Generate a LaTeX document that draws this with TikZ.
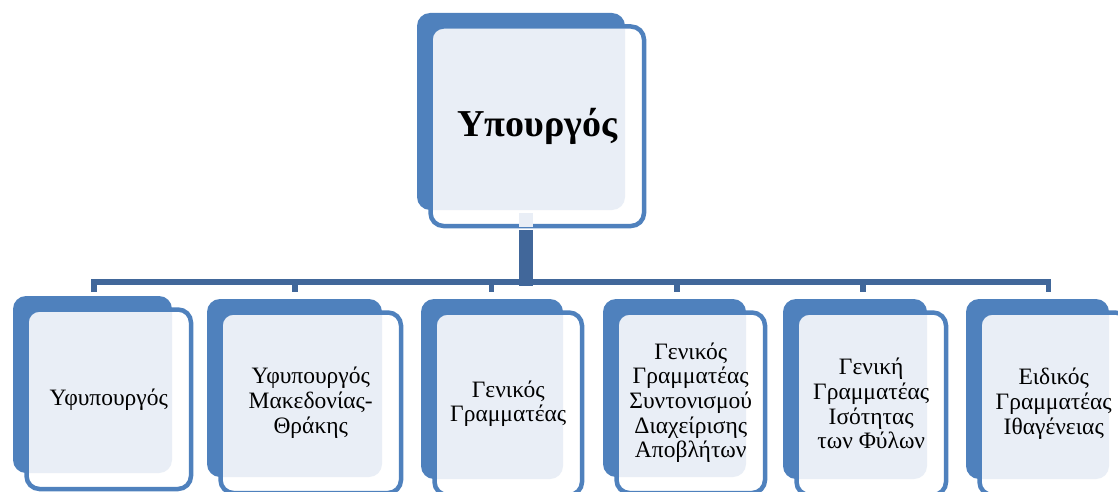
\documentclass[tikz,border=0pt]{standalone}
\usepackage{fontspec}
\setmainfont{Liberation Serif}
\definecolor{boxblue}{HTML}{4F81BD}
\definecolor{paleblue}{HTML}{E9EEF6}
\definecolor{linkblue}{HTML}{41679A}
\tikzset{
  unitbox/.style={draw=boxblue, line width=4.5pt, rounded corners=13pt,
    inner sep=0pt, align=center, font=\fontsize{23.5}{24.7}\selectfont},
  headbox/.style={unitbox, font=\fontsize{38}{42}\selectfont\bfseries},
  bus/.style={draw=linkblue, line width=5.5pt, line join=miter},
  trunk/.style={draw=linkblue, line width=14pt},
}
% #1 style, #2 name, #3..#6 left/top/right/bottom of the shadow card, #7 label
\newcommand\orgunit[7]{%
  \fill[boxblue, rounded corners=13pt] (#3,#4) rectangle (#5,#6);
  \fill[white, rounded corners=13pt] (#3+13.5,#4+13.5) rectangle (#5+19,#6+16);
  \begin{scope}
    \clip[rounded corners=10.75pt] (#3+15.75,#4+15.75) rectangle (#5+16.75,#6+13.75);
    \fill[paleblue, rounded corners=13pt] (#3,#4) rectangle (#5,#6);
  \end{scope}
  \node[#1, minimum width={#5-#3+5.5}, minimum height={#6-#4+2.5}]
    (#2) at ({(#3+#5+32.5)/2},{(#4+#6+29.5)/2}) {#7};
}
\begin{document}
\begin{tikzpicture}[x=1pt, y=-1pt]
  \useasboundingbox (0,0) rectangle (1118,492);

  % minister
  \orgunit{headbox}{minister}{417}{13}{625}{210}{Υπουργός}
  \fill[paleblue] (519,213) rectangle (533,227);

  % bus coordinates and drop points
  \foreach \i/\x in {1/94, 2/295, 3/491.5, 4/677, 5/863, 6/1048.5} {
    \coordinate (bus-\i) at (\x,282);
    \coordinate (drop-\i) at (\x,292);
  }
  \coordinate (trunk top) at (526,230);
  \coordinate (trunk foot) at (526,286);

  \draw[trunk] (trunk top) -- (trunk foot);
  \draw[bus] (drop-1) -- (bus-1) -- (bus-6) -- (drop-6);
  \foreach \i in {2,...,5} \draw[bus] (bus-\i) -- (drop-\i);

  % subordinate units
  \orgunit{unitbox}{deputy}{13}{296}{172}{473}{Υφυπουργός}
  \orgunit{unitbox}{deputymt}{207}{299}{382}{477}{Υφυπουργός\\Μακεδονίας-\\Θράκης}
  \orgunit{unitbox}{secgen}{421}{299}{563}{479}{Γενικός\\Γραμματέας}
  \orgunit{unitbox}{secwaste}{603}{299}{746}{477}{Γενικός\\Γραμματέας\\Συντονισμού\\Διαχείρισης\\Αποβλήτων}
  \orgunit{unitbox}{secgender}{783}{299}{927}{479}{Γενική\\Γραμματέας\\Ισότητας\\των Φύλων}
  \orgunit{unitbox}{secnat}{966}{299}{1109}{479}{Ειδικός\\Γραμματέας\\Ιθαγένειας}
\end{tikzpicture}
\end{document}
